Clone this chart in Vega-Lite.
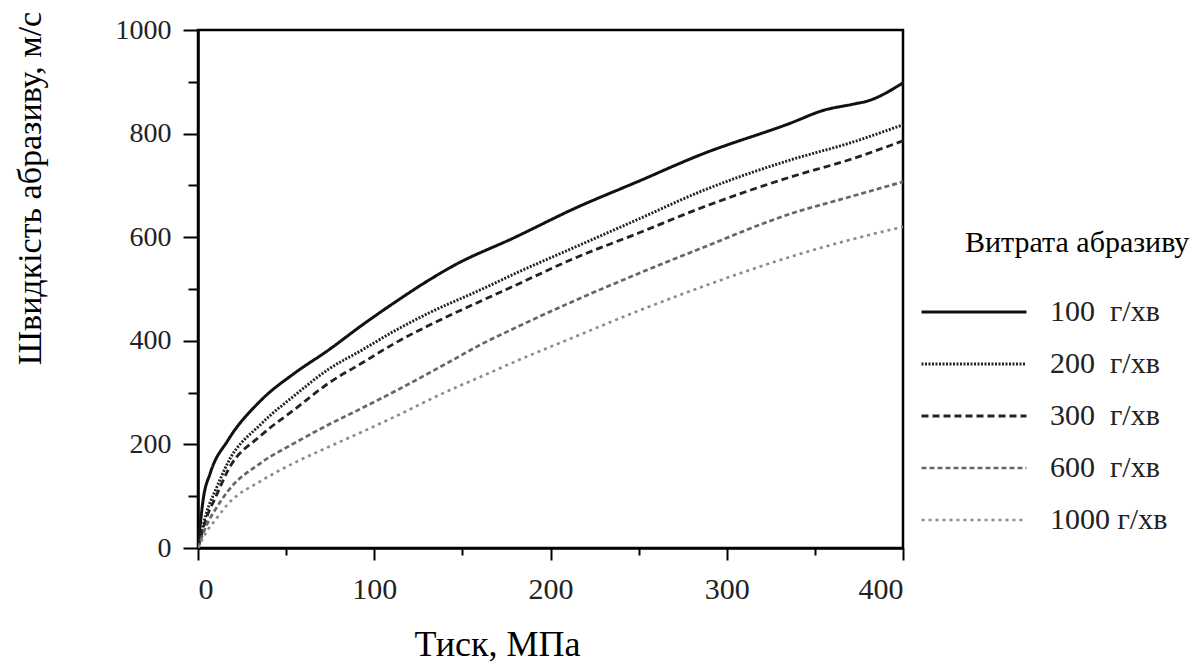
{
  "$schema": "https://vega.github.io/schema/vega-lite/v6.json",
  "autosize": {"type": "none"},
  "padding": {"left": 198, "top": 30, "right": 301, "bottom": 114},
  "width": 705,
  "height": 518,
  "background": "white",
  "config": {
    "view": {"stroke": "black", "strokeWidth": 2.5},
    "font": "Liberation Serif"
  },
  "datasets": {
    "curves": [
      {"s": "100  г/хв", "p": 0, "v": 0}, {"s": "100  г/хв", "p": 3, "v": 95}, {"s": "100  г/хв", "p": 7, "v": 145}, {"s": "100  г/хв", "p": 17, "v": 208}, {"s": "100  г/хв", "p": 36, "v": 286}, {"s": "100  г/хв", "p": 55, "v": 338}, {"s": "100  г/хв", "p": 74, "v": 382}, {"s": "100  г/хв", "p": 93, "v": 430}, {"s": "100  г/хв", "p": 112, "v": 475}, {"s": "100  г/хв", "p": 130, "v": 515}, {"s": "100  г/хв", "p": 145, "v": 545}, {"s": "100  г/хв", "p": 180, "v": 600}, {"s": "100  г/хв", "p": 214, "v": 656}, {"s": "100  г/хв", "p": 250, "v": 708}, {"s": "100  г/хв", "p": 285, "v": 759}, {"s": "100  г/хв", "p": 336, "v": 820}, {"s": "100  г/хв", "p": 355, "v": 845}, {"s": "100  г/хв", "p": 372, "v": 857}, {"s": "100  г/хв", "p": 380, "v": 863}, {"s": "100  г/хв", "p": 400, "v": 898},
      {"s": "200  г/хв", "p": 0, "v": 0}, {"s": "200  г/хв", "p": 5, "v": 70}, {"s": "200  г/хв", "p": 10, "v": 112}, {"s": "200  г/хв", "p": 17, "v": 165}, {"s": "200  г/хв", "p": 36, "v": 240}, {"s": "200  г/хв", "p": 55, "v": 295}, {"s": "200  г/хв", "p": 74, "v": 345}, {"s": "200  г/хв", "p": 93, "v": 382}, {"s": "200  г/хв", "p": 112, "v": 420}, {"s": "200  г/хв", "p": 130, "v": 452}, {"s": "200  г/хв", "p": 160, "v": 498}, {"s": "200  г/хв", "p": 180, "v": 530}, {"s": "200  г/хв", "p": 214, "v": 581}, {"s": "200  г/хв", "p": 250, "v": 635}, {"s": "200  г/хв", "p": 285, "v": 688}, {"s": "200  г/хв", "p": 336, "v": 749}, {"s": "200  г/хв", "p": 370, "v": 782}, {"s": "200  г/хв", "p": 400, "v": 817},
      {"s": "300  г/хв", "p": 0, "v": 0}, {"s": "300  г/хв", "p": 5, "v": 60}, {"s": "300  г/хв", "p": 10, "v": 98}, {"s": "300  г/хв", "p": 17, "v": 150}, {"s": "300  г/хв", "p": 36, "v": 218}, {"s": "300  г/хв", "p": 55, "v": 268}, {"s": "300  г/хв", "p": 74, "v": 318}, {"s": "300  г/хв", "p": 93, "v": 357}, {"s": "300  г/хв", "p": 112, "v": 396}, {"s": "300  г/хв", "p": 130, "v": 428}, {"s": "300  г/хв", "p": 160, "v": 476}, {"s": "300  г/хв", "p": 180, "v": 507}, {"s": "300  г/хв", "p": 214, "v": 560}, {"s": "300  г/хв", "p": 250, "v": 608}, {"s": "300  г/хв", "p": 285, "v": 656}, {"s": "300  г/хв", "p": 336, "v": 716}, {"s": "300  г/хв", "p": 370, "v": 750}, {"s": "300  г/хв", "p": 400, "v": 786},
      {"s": "600  г/хв", "p": 0, "v": 0}, {"s": "600  г/хв", "p": 5, "v": 45}, {"s": "600  г/хв", "p": 10, "v": 75}, {"s": "600  г/хв", "p": 17, "v": 110}, {"s": "600  г/хв", "p": 36, "v": 165}, {"s": "600  г/хв", "p": 55, "v": 203}, {"s": "600  г/хв", "p": 74, "v": 238}, {"s": "600  г/хв", "p": 93, "v": 270}, {"s": "600  г/хв", "p": 112, "v": 303}, {"s": "600  г/хв", "p": 143, "v": 360}, {"s": "600  г/хв", "p": 160, "v": 392}, {"s": "600  г/хв", "p": 180, "v": 425}, {"s": "600  г/хв", "p": 214, "v": 478}, {"s": "600  г/хв", "p": 250, "v": 530}, {"s": "600  г/хв", "p": 285, "v": 578}, {"s": "600  г/хв", "p": 336, "v": 645}, {"s": "600  г/хв", "p": 370, "v": 678}, {"s": "600  г/хв", "p": 400, "v": 707},
      {"s": "1000 г/хв", "p": 0, "v": 0}, {"s": "1000 г/хв", "p": 5, "v": 32}, {"s": "1000 г/хв", "p": 10, "v": 55}, {"s": "1000 г/хв", "p": 17, "v": 85}, {"s": "1000 г/хв", "p": 36, "v": 130}, {"s": "1000 г/хв", "p": 55, "v": 165}, {"s": "1000 г/хв", "p": 74, "v": 195}, {"s": "1000 г/хв", "p": 93, "v": 224}, {"s": "1000 г/хв", "p": 112, "v": 254}, {"s": "1000 г/хв", "p": 143, "v": 305}, {"s": "1000 г/хв", "p": 160, "v": 330}, {"s": "1000 г/хв", "p": 180, "v": 360}, {"s": "1000 г/хв", "p": 214, "v": 408}, {"s": "1000 г/хв", "p": 250, "v": 458}, {"s": "1000 г/хв", "p": 285, "v": 503}, {"s": "1000 г/хв", "p": 336, "v": 562}, {"s": "1000 г/хв", "p": 370, "v": 595}, {"s": "1000 г/хв", "p": 400, "v": 620}
    ]
  },
  "data": {"name": "curves"},
  "mark": {"type": "line", "interpolate": "monotone", "clip": true},
  "encoding": {
    "x": {
      "field": "p", "type": "quantitative",
      "scale": {"domain": [0, 400], "nice": false},
      "axis": {
        "title": "Тиск, МПа",
        "values": [0, 50, 100, 150, 200, 250, 300, 350, 400],
        "labelExpr": "datum.value % 100 == 0 ? datum.label : ''",
        "grid": false,
        "domainColor": "black", "domainWidth": 2.5,
        "tickColor": "black", "tickWidth": 2,
        "tickSize": {"condition": {"test": "datum.value % 100 == 0", "value": 12}, "value": 7},
        "labelFont": "Liberation Serif", "labelFontSize": 30, "labelColor": "#222222",
        "labelPadding": 14,
        "titleFont": "Liberation Serif", "titleFontSize": 36, "titleFontWeight": "normal", "titleColor": "black",
        "titleX": 299, "titleY": 107, "titleBaseline": "alphabetic", "titleAlign": "center"
      }
    },
    "y": {
      "field": "v", "type": "quantitative",
      "scale": {"domain": [0, 1000], "nice": false},
      "axis": {
        "title": "Швидкість абразиву, м/с",
        "values": [0, 100, 200, 300, 400, 500, 600, 700, 800, 900, 1000],
        "labelExpr": "datum.value % 200 == 0 ? datum.label : ''",
        "format": "d",
        "grid": false,
        "domainColor": "black", "domainWidth": 2.5,
        "tickColor": "black", "tickWidth": 2,
        "tickSize": {"condition": {"test": "datum.value % 200 == 0", "value": 15}, "value": 10},
        "labelFont": "Liberation Serif", "labelFontSize": 28, "labelColor": "#222222",
        "labelPadding": 12,
        "titleFont": "Liberation Serif", "titleFontSize": 34, "titleFontWeight": "normal", "titleColor": "black",
        "titleX": -168, "titleY": 158, "titleAngle": -90, "titleAlign": "center", "titleBaseline": "middle"
      }
    },
    "stroke": {
      "field": "s", "type": "nominal",
      "scale": {
        "domain": ["100  г/хв", "200  г/хв", "300  г/хв", "600  г/хв", "1000 г/хв"],
        "range": ["#111111", "#222222", "#222222", "#666666", "#8a8a8a"]
      },
      "legend": {
        "title": "\u200b\u00a0\u00a0\u00a0\u00a0\u00a0\u00a0Витрата абразиву",
        "orient": "none", "legendX": 722, "legendY": 198,
        "titleFont": "Liberation Serif", "titleFontSize": 30, "titleFontWeight": "normal", "titleColor": "black",
        "titlePadding": 44, "titleLimit": 400,
        "labelFont": "Liberation Serif", "labelFontSize": 30, "labelColor": "#222222",
        "labelExpr": "replace(datum.label, '  ', '\u00a0\u00a0')",
        "labelLimit": 300,
        "labelOffset": 22,
        "symbolType": "stroke", "symbolSize": 11025,
        "clipHeight": 20, "rowPadding": 22
      }
    },
    "strokeDash": {
      "field": "s", "type": "nominal",
      "scale": {
        "domain": ["100  г/хв", "200  г/хв", "300  г/хв", "600  г/хв", "1000 г/хв"],
        "range": [[1, 0], [2, 1.5], [7, 4], [5, 3], [3, 4]]
      }
    },
    "strokeWidth": {
      "field": "s", "type": "nominal",
      "scale": {
        "domain": ["100  г/хв", "200  г/хв", "300  г/хв", "600  г/хв", "1000 г/хв"],
        "range": [3, 2.6, 2.6, 2.2, 2]
      }
    }
  }
}
